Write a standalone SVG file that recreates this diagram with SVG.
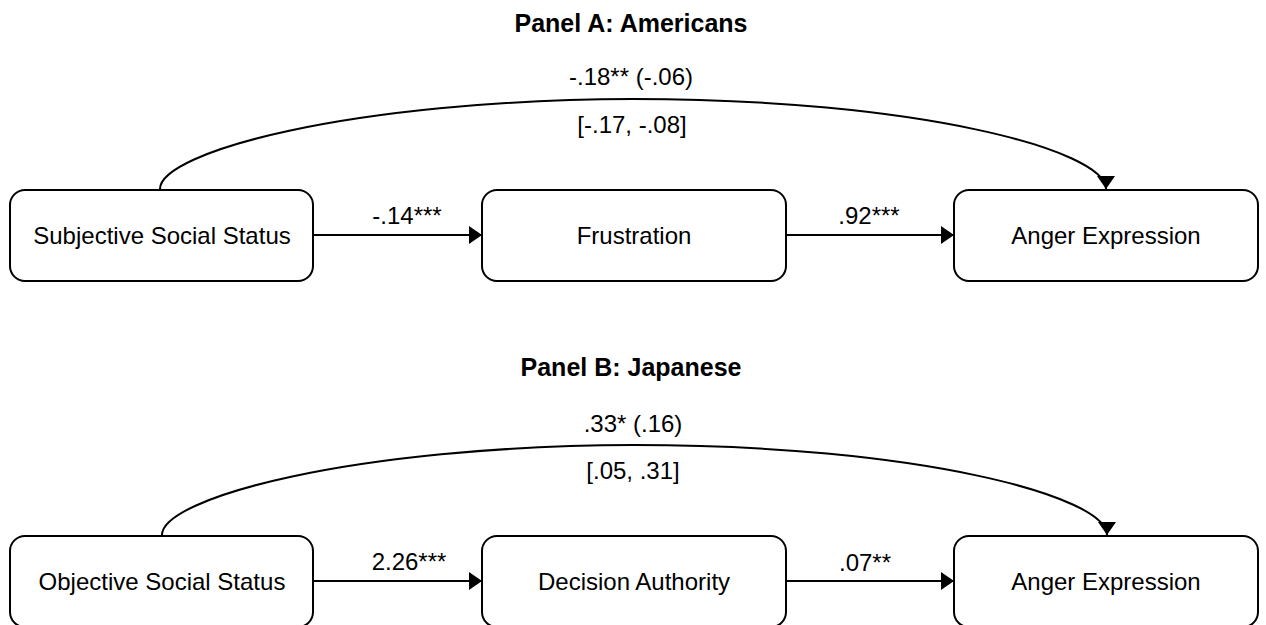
<svg xmlns="http://www.w3.org/2000/svg" width="1266" height="625" viewBox="0 0 1266 625">
<style>
.box{fill:#fff;stroke:#000;stroke-width:2}
.lbl{font-family:"Liberation Sans",Arial,sans-serif;font-size:24px;fill:#000;text-anchor:middle}
.ttl{font-family:"Liberation Sans",Arial,sans-serif;font-size:25px;font-weight:bold;fill:#000;text-anchor:middle}
.edge{fill:none;stroke:#000;stroke-width:2}
</style>
<defs>
<marker id="arr" markerUnits="userSpaceOnUse" markerWidth="16" markerHeight="20" refX="13" refY="9" orient="auto" viewBox="0 0 16 20">
<path d="M0,0 L13,9 L0,18 Z" fill="#000"/>
</marker>
</defs>
<rect width="1266" height="625" fill="#fff"/>
<text class="ttl" x="631" y="32">Panel A: Americans</text>
<text class="ttl" x="631" y="376">Panel B: Japanese</text>
<g id="connectors">
<path class="edge" d="M313,235 L482,235" marker-end="url(#arr)"/>
<path class="edge" d="M786,235 L954,235" marker-end="url(#arr)"/>
<path class="edge" d="M160,189 C160,152 350,100 633,99 C916,99 1106,150 1106,189" marker-end="url(#arr)"/>
<path class="edge" d="M313,581 L482,581" marker-end="url(#arr)"/>
<path class="edge" d="M786,581 L954,581" marker-end="url(#arr)"/>
<path class="edge" d="M162,535 C162,498 352,446 634,445 C916,445 1107,496 1107,535" marker-end="url(#arr)"/>
<text class="lbl" x="407" y="224">-.14***</text>
<text class="lbl" x="869" y="224">.92***</text>
<text class="lbl" x="631" y="85">-.18** (-.06)</text>
<text class="lbl" x="632" y="133">[-.17, -.08]</text>
<text class="lbl" x="409" y="570">2.26***</text>
<text class="lbl" x="865" y="571">.07**</text>
<text class="lbl" x="633" y="432">.33* (.16)</text>
<text class="lbl" x="633" y="479">[.05, .31]</text>
</g>
<g id="n1"><rect class="box" x="10" y="190" width="303" height="91" rx="15"/><text class="lbl" x="162" y="244">Subjective Social Status</text></g>
<g id="n2"><rect class="box" x="482" y="190" width="304" height="91" rx="15"/><text class="lbl" x="634" y="244">Frustration</text></g>
<g id="n3"><rect class="box" x="954" y="190" width="304" height="91" rx="15"/><text class="lbl" x="1106" y="244">Anger Expression</text></g>
<g id="n4"><rect class="box" x="10" y="536" width="303" height="91" rx="15"/><text class="lbl" x="162" y="590">Objective Social Status</text></g>
<g id="n5"><rect class="box" x="482" y="536" width="304" height="91" rx="15"/><text class="lbl" x="634" y="590">Decision Authority</text></g>
<g id="n6"><rect class="box" x="954" y="536" width="304" height="91" rx="15"/><text class="lbl" x="1106" y="590">Anger Expression</text></g>
</svg>
